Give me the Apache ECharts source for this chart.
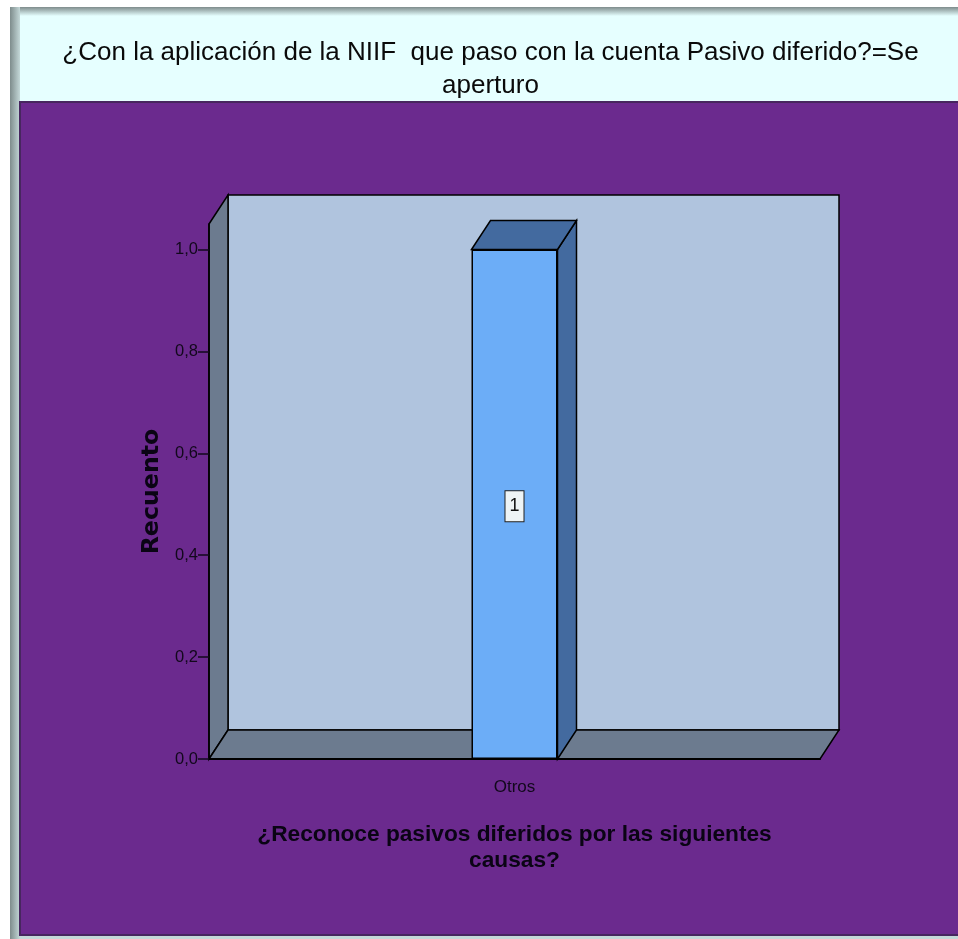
<!DOCTYPE html>
<html lang="es">

<head>
    <meta charset="UTF-8">
    <title>Recuento</title>
    <style>
        html, body { margin: 0; padding: 0; background: #fff; }
        #bar { width: 958px; height: 939px; }
    </style>
    <script src="https://cdn.jsdelivr.net/npm/echarts@6/dist/echarts.min.js"></script>
</head>

<body>
    <div id="bar"></div>
    <script>
        var categories = ['Otros'];
        var counts = [1];
        var yTicks = [0, 0.2, 0.4, 0.6, 0.8, 1.0];
        var chartTitle = '¿Con la aplicación de la NIIF  que paso con la cuenta Pasivo diferido?=Se\naperturo';
        var yName = 'Recuento';
        var xName = '¿Reconoce pasivos diferidos por las siguientes\ncausas?';

        // fake 3d depth of the spss box, in pixels
        var depthX = 19;
        var depthY = -29;
        var barWidth = 86;
        var edge = { stroke: '#000', lineWidth: 1.5 };

        function poly(points, fill) {
            return {
                type: 'polygon',
                shape: { points: points },
                style: Object.assign({ fill: fill }, edge)
            };
        }

        function renderBox(params, api) {
            var g = params.coordSys;
            var l = g.x, r = g.x + g.width, t = g.y, b = g.y + g.height;
            return {
                type: 'group',
                children: [
                    poly([[l + depthX, t + depthY], [r + depthX, t + depthY], [r + depthX, b + depthY], [l + depthX, b + depthY]], '#B0C4DE'),
                    poly([[l, t], [l + depthX, t + depthY], [l + depthX, b + depthY], [l, b]], '#6C7B8F'),
                    poly([[l, b], [l + depthX, b + depthY], [r + depthX, b + depthY], [r, b]], '#6C7B8F')
                ]
            };
        }

        function renderBarDepth(params, api) {
            var top = api.coord([api.value(0), api.value(1)]);
            var base = api.coord([api.value(0), 0]);
            var l = top[0] - barWidth / 2, r = top[0] + barWidth / 2;
            return {
                type: 'group',
                children: [
                    poly([[r, base[1]], [r + depthX, base[1] + depthY], [r + depthX, top[1] + depthY], [r, top[1]]], '#436A9F'),
                    poly([[l, top[1]], [l + depthX, top[1] + depthY], [r + depthX, top[1] + depthY], [r, top[1]]], '#436A9F')
                ]
            };
        }

        var axisColor = '#12081c';

        echarts.init(document.getElementById('bar')).setOption({
            animation: false,
            backgroundColor: '#fff',
            title: {
                text: chartTitle,
                left: 485.5,
                top: 31,
                textAlign: 'center',
                textStyle: {
                    fontFamily: 'Liberation Sans',
                    fontSize: 26,
                    fontWeight: 'normal',
                    color: '#0a0a0a',
                    lineHeight: 33
                }
            },
            graphic: [
                {
                    type: 'rect', z: -10,
                    shape: { x: 10, y: 7, width: 948, height: 932 },
                    style: { fill: '#E6FFFF' }
                },
                {
                    type: 'rect', z: -9,
                    shape: { x: 10, y: 7, width: 948, height: 9 },
                    style: {
                        fill: { type: 'linear', x: 0, y: 0, x2: 0, y2: 1, colorStops: [{ offset: 0, color: '#7E8C8C' }, { offset: 1, color: '#E6FFFF' }] }
                    }
                },
                {
                    type: 'rect', z: -9,
                    shape: { x: 10, y: 7, width: 10, height: 932 },
                    style: {
                        fill: { type: 'linear', x: 0, y: 0, x2: 1, y2: 0, colorStops: [{ offset: 0, color: '#7E8C8C' }, { offset: 1, color: '#C4D8D8' }] }
                    }
                },
                {
                    type: 'rect', z: -8,
                    shape: { x: 20, y: 936, width: 938, height: 3 },
                    style: { fill: '#C4D8D8' }
                },
                {
                    type: 'rect', z: -7,
                    shape: { x: 20, y: 102, width: 940, height: 833 },
                    style: { fill: '#6B2A8E', stroke: '#47265F', lineWidth: 2 }
                }
            ],
            grid: {
                left: 209,
                right: 138,
                top: 224,
                bottom: 180
            },
            xAxis: {
                type: 'category',
                data: categories,
                z: 5,
                name: xName,
                nameLocation: 'middle',
                nameGap: 63,
                nameTextStyle: {
                    fontFamily: 'Liberation Sans',
                    fontSize: 22.7,
                    fontWeight: 'bold',
                    color: '#0a0414',
                    lineHeight: 26
                },
                axisLine: { lineStyle: { color: '#000', width: 2 } },
                axisTick: { alignWithLabel: true, length: 12, lineStyle: { color: axisColor, width: 1.5 } },
                axisLabel: {
                    margin: 20,
                    fontFamily: 'Liberation Sans',
                    fontSize: 17,
                    color: axisColor
                }
            },
            yAxis: {
                type: 'value',
                min: 0,
                max: 1.05,
                z: 5,
                name: yName,
                nameLocation: 'middle',
                nameGap: 45,
                nameTextStyle: {
                    fontFamily: 'DejaVu Sans',
                    fontSize: 23.7,
                    fontWeight: 'bold',
                    color: '#0a0414'
                },
                axisLine: { show: true, lineStyle: { color: '#000', width: 1.5 } },
                axisTick: { show: true, length: 11, customValues: yTicks, lineStyle: { color: axisColor, width: 1.5 } },
                axisLabel: {
                    customValues: yTicks,
                    margin: 11,
                    padding: [6, 0, 0, 0],
                    fontFamily: 'Liberation Sans',
                    fontSize: 16.5,
                    color: axisColor,
                    formatter: function (v) {
                        return v.toFixed(1).replace('.', ',');
                    }
                },
                splitLine: { show: false }
            },
            series: [
                {
                    type: 'custom',
                    z: 1,
                    silent: true,
                    renderItem: renderBox,
                    data: [[0, 0]]
                },
                {
                    type: 'custom',
                    z: 2,
                    silent: true,
                    renderItem: renderBarDepth,
                    data: counts.map(function (v, i) { return [i, v]; })
                },
                {
                    type: 'bar',
                    z: 3,
                    barWidth: barWidth,
                    data: counts,
                    itemStyle: { color: '#6CADF7', borderColor: '#000', borderWidth: 1.5 },
                    label: {
                        show: true,
                        position: 'inside',
                        offset: [0, 2],
                        fontFamily: 'Liberation Sans',
                        fontSize: 18,
                        color: '#111',
                        backgroundColor: '#EEF4F6',
                        borderColor: '#222',
                        borderWidth: 1,
                        padding: [6, 4, 6, 4]
                    }
                }
            ]
        });
    </script>
</body>

</html>
